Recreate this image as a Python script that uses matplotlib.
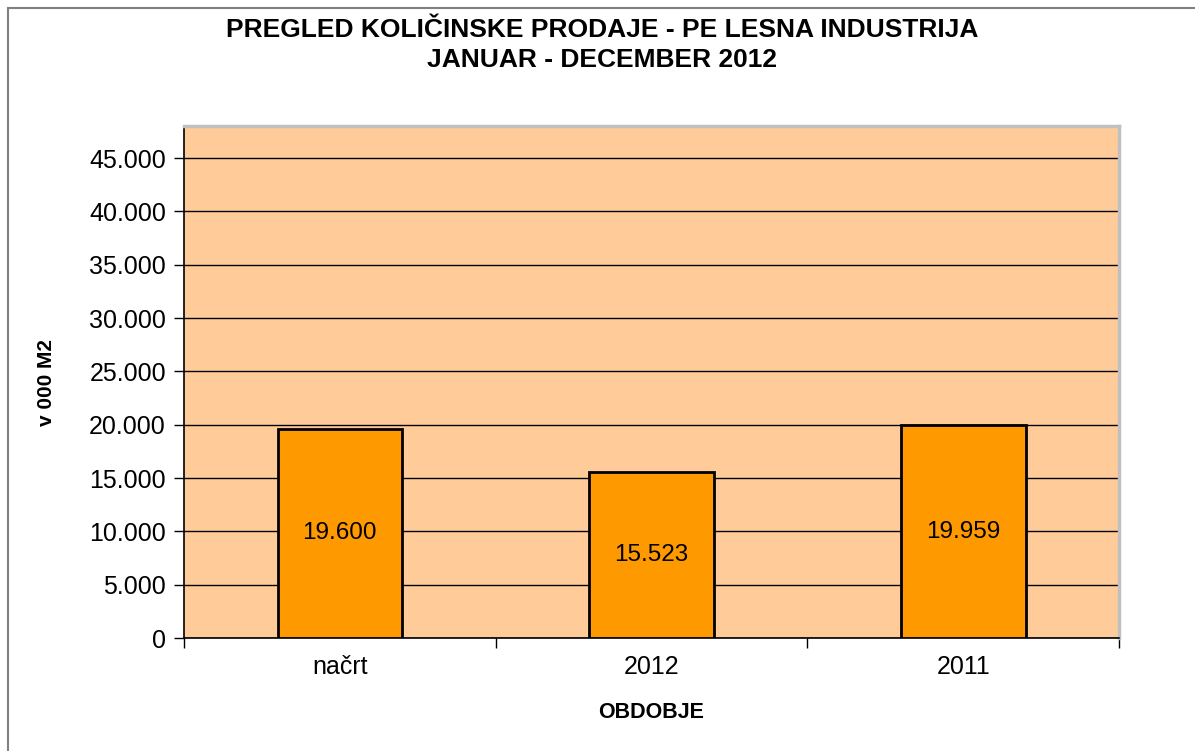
import matplotlib
matplotlib.use("Agg")
import matplotlib.pyplot as plt
from matplotlib.ticker import FuncFormatter, MultipleLocator
from matplotlib.patches import Rectangle

categories = ["načrt", "2012", "2011"]
values = [19600, 15523, 19959]
value_labels = ["19.600", "15.523", "19.959"]

title = "PREGLED KOLIČINSKE PRODAJE - PE LESNA INDUSTRIJA\nJANUAR - DECEMBER 2012"

plt.rcParams['font.family'] = ['Liberation Sans', 'DejaVu Sans']

fig = plt.figure(figsize=(11.95, 7.51), dpi=100)
fig.patch.set_facecolor('white')
# figure border
fig.add_artist(Rectangle((8/1195, -0.01), 1.02, (751-8)/751 + 0.01, transform=fig.transFigure,
                         fill=False, edgecolor='#808080', linewidth=1.5))

ax = fig.add_axes([184/1195, (751-638)/751, (1119-184)/1195, (638-126)/751])
ax.set_facecolor('#FFCC99')

x = list(range(len(categories)))
ax.bar(x, values, width=0.4, color='#FF9900', edgecolor='black', linewidth=2, zorder=3)
for xi, v, lab in zip(x, values, value_labels):
    ax.text(xi, v / 2, lab, ha='center', va='center', fontsize=17.5, zorder=4)

ax.set_xlim(-0.5, 2.5)
ax.set_ylim(0, 48000)
ax.yaxis.set_major_locator(MultipleLocator(5000))
ax.yaxis.set_major_formatter(FuncFormatter(lambda v, p: f"{int(v):,}".replace(",", ".")))
ax.grid(axis='y', color='black', linewidth=1, zorder=1)
ax.set_axisbelow(True)

ax.set_xticks([-0.5, 0.5, 1.5, 2.5], minor=False)
ax.set_xticklabels([])
ax.set_xticks(x, minor=True)
ax.set_xticklabels(categories, minor=True)
ax.tick_params(axis='x', which='major', length=7, width=1, direction='out', color='black')
ax.tick_params(axis='x', which='minor', length=0, labelsize=18, pad=12)
ax.tick_params(axis='y', length=7, width=1, direction='out', labelsize=18, pad=6)

for s in ['left', 'bottom']:
    ax.spines[s].set_color('black')
    ax.spines[s].set_linewidth(1.2)
for s in ['top', 'right']:
    ax.spines[s].set_color('#C0C0C0')
    ax.spines[s].set_linewidth(2.5)

ax.set_xlabel("OBDOBJE", fontsize=15.5, fontweight='bold')
ax.set_ylabel("v 000 M2", fontsize=15, fontweight='bold')
ax.yaxis.set_label_coords((47 - 184) / 935, 0.5)
ax.xaxis.set_label_coords(0.5, -(712 - 638) / 512)
ax.xaxis.label.set_va('center')
ax.yaxis.label.set_va('center')

fig.text(0.504, 1 - 45/751, title, ha='center', va='center', fontsize=19,
         fontweight='bold', linespacing=1.3)

fig.savefig("out.png", dpi=100)
